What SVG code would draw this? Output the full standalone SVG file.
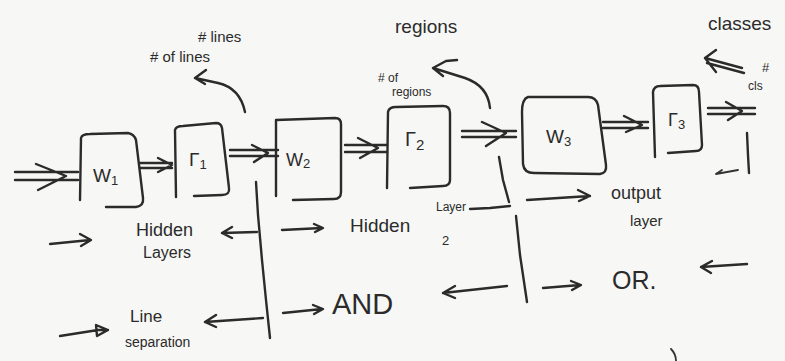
<svg xmlns="http://www.w3.org/2000/svg" width="785" height="361" viewBox="0 0 785 361">
<style>
  .ink { fill: none; stroke: #2b2b2b; stroke-width: 2.4; stroke-linecap: round; stroke-linejoin: round; }
  .thin { fill: none; stroke: #333; stroke-width: 1.8; stroke-linecap: round; stroke-linejoin: round; }
  .t { font-family: "Liberation Sans", "DejaVu Sans", sans-serif; fill: #2b2b2b; }
</style>
<rect width="785" height="361" fill="#f7f7f5"/>

<g id="node-w1">
  <path class="ink" d="M80,200 L81,138 Q82,134 90,134 L128,133 Q134,134 136,140 L143,198 Q144,206 136,207 L106,207"/>
  <text class="t" x="93" y="182" font-size="19">W<tspan font-size="13" dy="3">1</tspan></text>
</g>
<g id="node-g1">
  <path class="ink" d="M176,197 L175,130 Q176,126 183,126 L216,123 Q221,123 222,128 L229,188 Q230,195 222,195 L194,196"/>
  <text class="t" x="189" y="166" font-size="19">Γ<tspan font-size="13" dy="3">1</tspan></text>
</g>
<g id="node-w2">
  <path class="ink" d="M276,196 L276,120 L335,118 Q341,118 341,124 L341,192 Q341,199 334,199 L293,200"/>
  <text class="t" x="286" y="166" font-size="18">W<tspan font-size="13" dy="2">2</tspan></text>
</g>
<g id="node-g2">
  <path class="ink" d="M387,188 L388,112 Q389,107 396,107 L443,106 Q450,106 450,113 L450,180 Q450,186 443,186 L410,188"/>
  <text class="t" x="405" y="146" font-size="20">Γ<tspan font-size="15" dy="4">2</tspan></text>
</g>
<g id="node-w3">
  <path class="ink" d="M528,97 Q522,99 522,112 L523,164 Q524,173 534,173 L600,174 Q607,173 606,165 L598,105 Q596,97 588,97 Z"/>
  <text class="t" x="546" y="143" font-size="19">W<tspan font-size="13" dy="3">3</tspan></text>
</g>
<g id="node-g3">
  <path class="ink" d="M655,157 L653,92 Q654,86 660,86 L693,85 Q699,85 699,92 L702,145 Q702,151 696,151 L668,153"/>
  <text class="t" x="668" y="126" font-size="18">Γ<tspan font-size="13" dy="3">3</tspan></text>
</g>

<g id="connectors">
  <path class="ink" d="M15,172 L78,172 M15,180 L78,180 M36,164 L66,176 L38,190"/>
  <path class="ink" d="M140,163 L172,163 M140,168 L172,168 M158,158 L172,165 L158,172"/>
  <path class="ink" d="M230,150 L278,150 M230,156 L278,156 M252,145 L268,153 L254,162"/>
  <path class="ink" d="M345,145 L387,145 M345,152 L387,152 M358,138 L378,148 L360,158"/>
  <path class="ink" d="M462,131 L516,131 M462,137 L516,137 M482,122 L506,133 L486,146"/>
  <path class="ink" d="M603,122 L648,122 M603,128 L648,128 M624,116 L642,125 L626,132"/>
  <path class="ink" d="M708,108 L755,108 M708,114 L755,114 M726,102 L742,111 L728,120"/>
  <path class="ink" d="M245,112 Q240,88 218,83 L195,78 M195,78 L206,70 M195,78 L205,84"/>
  <path class="ink" d="M490,108 Q488,86 465,78 L433,68 M433,68 L446,61 L457,60 M433,68 L443,76"/>
  <path class="ink" d="M742,68 L705,58 M744,73 L707,63 M705,58 L716,50 M705,58 L716,72"/>
  <path class="ink" d="M256,182 L258,215 L262,260 L266,300 L270,338"/>
  <path class="ink" d="M499,157 L503,180 L509,202 M516,216 L520,255 L527,302"/>
  <path class="ink" d="M747,133 L748,155 L749,173"/>
  <path class="thin" d="M716,174 L738,170 M716,174 L722,170"/>
  <path class="ink" d="M50,244 L90,240 M80,234 L91,240 L81,246"/>
  <path class="ink" d="M257,232 L222,233 M222,233 L232,227 M222,233 L232,238"/>
  <path class="ink" d="M282,230 L322,228 M314,224 L323,228 L315,232"/>
  <path class="ink" d="M470,209 L490,208 L510,206"/>
  <path class="ink" d="M527,200 L590,196 M578,190 L590,196 L579,201"/>
  <path class="ink" d="M60,336 L98,330 M98,330 L108,330 M96,325 L108,330 L97,336 Z"/>
  <path class="ink" d="M263,318 L205,322 M205,322 L216,315 M205,322 L216,327"/>
  <path class="ink" d="M283,313 L322,309 M313,305 L323,309 L314,314"/>
  <path class="ink" d="M507,286 L443,293 M443,293 L455,286 M443,293 L455,298"/>
  <path class="ink" d="M543,288 L580,285 M571,281 L581,285 L572,290"/>
  <path class="ink" d="M747,264 L701,267 M701,267 L712,261 M701,267 L711,273"/>
  <path class="thin" d="M671,349 Q676,354 676,361"/>
</g>

<g id="labels">
  <text class="t" x="198" y="42" font-size="15"># lines</text>
  <text class="t" x="150" y="62" font-size="15"># of lines</text>
  <text class="t" x="395" y="33" font-size="19">regions</text>
  <text class="t" x="378" y="82" font-size="12"># of</text>
  <text class="t" x="392" y="96" font-size="12">regions</text>
  <text class="t" x="708" y="30" font-size="19">classes</text>
  <text class="t" x="762" y="72" font-size="13">#</text>
  <text class="t" x="748" y="90" font-size="12">cls</text>
  <text class="t" x="136" y="236" font-size="18">Hidden</text>
  <text class="t" x="143" y="258" font-size="16">Layers</text>
  <text class="t" x="350" y="232" font-size="19">Hidden</text>
  <text class="t" x="436" y="211" font-size="12">Layer</text>
  <text class="t" x="442" y="245" font-size="13">2</text>
  <text class="t" x="611" y="199" font-size="18">output</text>
  <text class="t" x="630" y="226" font-size="15">layer</text>
  <text class="t" x="130" y="322" font-size="17">Line</text>
  <text class="t" x="125" y="347" font-size="14">separation</text>
  <text class="t" x="332" y="314" font-size="29">AND</text>
  <text class="t" x="612" y="289" font-size="25">OR.</text>
</g>
</svg>
